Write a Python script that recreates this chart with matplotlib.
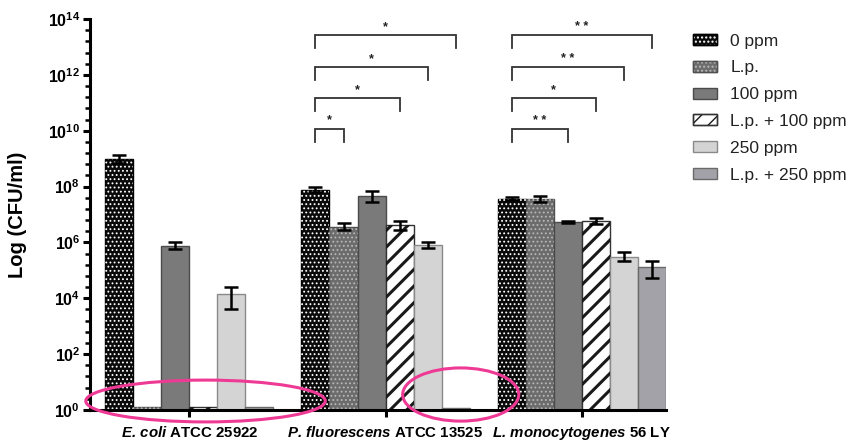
import numpy as np
import matplotlib
matplotlib.use('Agg')
import matplotlib.pyplot as plt
from matplotlib.patches import Patch, Ellipse
from matplotlib.legend_handler import HandlerTuple
import matplotlib.transforms as mtransforms

#fonts
plt.rcParams['font.family'] = ['Liberation Sans', 'DejaVu Sans']
plt.rcParams['mathtext.fontset'] = 'custom'
plt.rcParams['mathtext.rm'] = 'Liberation Sans'
plt.rcParams['mathtext.bf'] = 'Liberation Sans:bold'
plt.rcParams['mathtext.it'] = 'Liberation Sans:italic'
try:
    plt.rcParams['mathtext.bfit'] = 'Liberation Sans:bold:italic'
    species_fmt = r'$\mathbfit{%s}$'
except KeyError:
    species_fmt = r'$\mathit{%s}$'

#data (log10 CFU/ml)
species = ['E.\\,coli', 'P.\\,fluorescens', 'L.\\,monocytogenes']
strains = ['ATCC 25922', 'ATCC 13525', '56 LY']
treatments = ['0 ppm', 'L.p.', '100 ppm', 'L.p. + 100 ppm', '250 ppm', 'L.p. + 250 ppm']

ecoli_log = [9.0, 0.11, 5.89, 0.11, 4.16, 0.11]
ecoli_hi = [9.14, np.nan, 6.01, np.nan, 4.42, np.nan]
ecoli_lo = [8.86, np.nan, 5.77, np.nan, 3.62, np.nan]

pfl_log = [7.89, 6.57, 7.68, 6.61, 5.90, 0.07]
pfl_hi = [7.98, 6.71, 7.84, 6.76, 6.02, np.nan]
pfl_lo = [7.80, 6.43, 7.46, 6.43, 5.79, np.nan]

lmo_log = [7.56, 7.56, 6.74, 6.76, 5.47, 5.11]
lmo_hi = [7.61, 7.68, 6.77, 6.89, 5.64, 5.34]
lmo_lo = [7.51, 7.46, 6.71, 6.66, 5.32, 4.72]

#significance brackets: (group, bar a, bar b, stars)
sig_pairs = [(1, 0, 1, '*'), (1, 0, 3, '*'), (1, 0, 4, '*'), (1, 0, 5, '*'),
             (2, 0, 2, '* *'), (2, 0, 3, '*'), (2, 0, 4, '* *'), (2, 0, 5, '* *')]
sig_levels = [10.07, 11.17, 12.28, 13.42, 10.07, 11.17, 12.28, 13.42]

#styles per treatment: facecolor, edgecolor, hatch, hatch color
styles = [
    ('#0a0a0a', '#000000', '....', '#ffffff'),
    ('#6c6c6c', '#505050', '....', '#b8b8b8'),
    ('#7a7a7a', '#4a4a4a', None, None),
    ('#ffffff', '#333333', '//', '#1a1a1a'),
    ('#d4d4d4', '#8a8a8a', None, None),
    ('#a2a2a8', '#6a6a6a', None, None),
]

all_log = [ecoli_log, pfl_log, lmo_log]
all_hi = [ecoli_hi, pfl_hi, lmo_hi]
all_lo = [ecoli_lo, pfl_lo, lmo_lo]

fig = plt.figure(figsize=(8.58, 4.44), dpi=100)
ax = fig.add_axes([90/858, 34/444, 576/858, 391/444])
ax.set_yscale('log')

group_step = 7
centers = [g*group_step + 2.5 for g in range(3)]

legend_handles = []
for i, (fc, ec, hatch, hc) in enumerate(styles):
    xs = [g*group_step + i for g in range(3)]
    vals = [10**all_log[g][i] for g in range(3)]
    ax.bar(xs, np.array(vals) - 1, bottom=1, width=1.0, color=fc, edgecolor=ec, linewidth=1.0, zorder=2)
    h1 = Patch(facecolor=fc, edgecolor=ec, linewidth=1.0)
    if hatch:
        lw_h = 2.2 if hatch == '//' else 0.8
        bars = ax.bar(xs, np.array(vals) - 1, bottom=1, width=1.0, color='none', edgecolor=hc,
                      linewidth=0, hatch=hatch, zorder=2.1)
        for b in bars:
            if hasattr(b, 'set_hatch_linewidth'):
                b.set_hatch_linewidth(lw_h)
        h2 = Patch(facecolor='none', edgecolor=hc, linewidth=0, hatch=hatch)
        if hasattr(h2, 'set_hatch_linewidth'):
            h2.set_hatch_linewidth(lw_h)
        h3 = Patch(facecolor='none', edgecolor=ec, linewidth=1.0)
        legend_handles.append((h1, h2, h3))
    else:
        legend_handles.append((h1,))
    # error bars
    lo = np.array([10**all_lo[g][i] for g in range(3)])
    hi = np.array([10**all_hi[g][i] for g in range(3)])
    v = np.array(vals)
    ax.errorbar(xs, v, yerr=[v - lo, hi - v], fmt='none', ecolor='black', elinewidth=1.8,
                capsize=5, capthick=1.8, zorder=3)

#significance brackets
drop = 0.47
for (g, a, b, stars), lev in zip(sig_pairs, sig_levels):
    xa = g*group_step + a
    xb = g*group_step + b
    ax.plot([xa, xa, xb, xb], [10**(lev - drop), 10**lev, 10**lev, 10**(lev - drop)],
            color='#333333', lw=1.3, zorder=3, solid_joinstyle='miter')
    ax.text((xa + xb)/2, 10**(lev + 0.08), stars, ha='center', va='bottom', fontsize=9,
            fontweight='bold', color='#222222')

#axes
ax.set_xlim(-1.04, 19.5)
ax.set_ylim(1, 1e14)
major = [10.0**k for k in range(0, 15, 2)]
minor = [10.0**(0.4*k) for k in range(0, 36) if k % 5 != 0]
ax.yaxis.set_major_locator(matplotlib.ticker.FixedLocator(major))
ax.yaxis.set_minor_locator(matplotlib.ticker.FixedLocator(minor))
ax.set_yticklabels([r'$\mathbf{10^{%d}}$' % k for k in range(0, 15, 2)])
ax.yaxis.set_minor_formatter(matplotlib.ticker.NullFormatter())
ax.set_xticks(centers)
ax.set_xticklabels([species_fmt % s + ' ' + st for s, st in zip(species, strains)],
                   fontsize=10.8, fontweight='bold')
ax.tick_params(axis='y', which='major', length=5, width=2.2, labelsize=11.5, pad=2)
ax.tick_params(axis='y', which='minor', length=3.5, width=1.8)
ax.tick_params(axis='x', which='major', length=5, width=2.2, pad=6)
for lab in ax.get_yticklabels():
    lab.set_fontweight('bold')
for side in ['top', 'right']:
    ax.spines[side].set_visible(False)
for side in ['left', 'bottom']:
    ax.spines[side].set_linewidth(2.2)
ax.set_ylabel('Log (CFU/ml)', fontsize=14.5, fontweight='bold')
ax.yaxis.set_label_coords(-0.11, 0.5)

#legend
fig.legend(legend_handles, treatments, loc='upper left', bbox_to_anchor=(677/858, 1 - 18/444),
           frameon=False, fontsize=12.5, handlelength=1.38, handleheight=0.6, handletextpad=0.8,
           labelspacing=0.68, labelcolor='#222222',
           handler_map={tuple: HandlerTuple(ndivide=1, pad=0)})

#pink highlight ellipses
trans = mtransforms.blended_transform_factory(ax.transData, ax.transAxes)
ellipse_x = [3.08, 12.18]
ellipse_w = [8.54, 4.14]
ellipse_y = [0.023, 0.0396]
ellipse_h = [0.107, 0.136]
for cx, w, cy, h in zip(ellipse_x, ellipse_w, ellipse_y, ellipse_h):
    e = Ellipse((cx, cy), w, h, transform=trans, fill=False, edgecolor='#ee3a95', lw=2.2,
                clip_on=False, zorder=5)
    ax.add_patch(e)

fig.savefig('out.png', dpi=100)
